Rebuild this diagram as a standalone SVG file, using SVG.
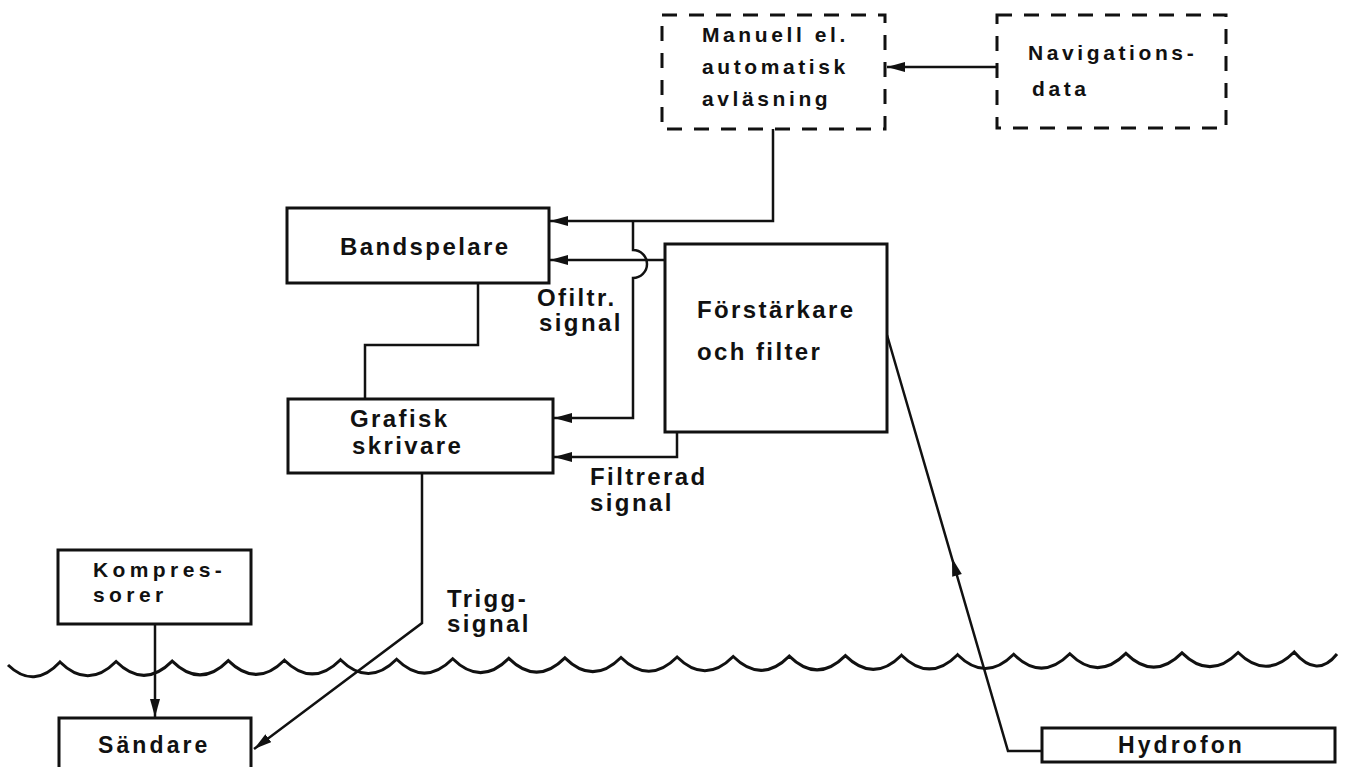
<svg xmlns="http://www.w3.org/2000/svg" width="1347" height="767" viewBox="0 0 1347 767">
<style>
.box{fill:#fff;stroke:#111;stroke-width:3}
.dash{fill:#fff;stroke:#111;stroke-width:3;stroke-dasharray:15 12}
.ln{fill:none;stroke:#111;stroke-width:2.5}
.wave{fill:none;stroke:#111;stroke-width:3;stroke-linejoin:miter}
text{font-family:"Liberation Sans",Arial,sans-serif;font-weight:bold;fill:#111}
.t20{font-size:21px;letter-spacing:3.6px}
.t22{font-size:24px;letter-spacing:2.4px}
.t21{font-size:23px;letter-spacing:3.1px}
.tk{font-size:21px;letter-spacing:4.4px}
</style>
<defs>
<marker id="arr" viewBox="0 0 18 10" refX="18" refY="5" markerWidth="18" markerHeight="10" markerUnits="userSpaceOnUse" orient="auto">
<path d="M0,0 L18,5 L0,10 z" fill="#111"/>
</marker>
</defs>
<rect width="1347" height="767" fill="#fff"/>

<g id="connectors">
<path class="ln" d="M997,67 H887" marker-end="url(#arr)"/>
<path class="ln" d="M773,129 V221 H550" marker-end="url(#arr)"/>
<path class="ln" d="M665,260 H550" marker-end="url(#arr)"/>
<path class="ln" d="M633,221 V250 A14,14 0 0 1 633,278 V418 H554" marker-end="url(#arr)"/>
<path class="ln" d="M677,432 V457 H554" marker-end="url(#arr)"/>
<path class="ln" d="M478,283 V345 H365 V399"/>
<path class="ln" d="M422,473 V623 L254,749" marker-end="url(#arr)"/>
<path class="ln" d="M155,624 V717" marker-end="url(#arr)"/>
<path class="ln" d="M1042,751 H1008 L887,335"/>
<polygon points="952,558 961.8,573.9 952.2,576.7" fill="#111"/>
</g>

<path id="water" class="wave" d="M8,665 Q34,690 60,662 Q88.05,689.75 116.1,661.5 Q144.15,689.3 172.2,661.1 Q200.25,688.85 228.3,660.6 Q256.35,688.4 284.4,660.2 Q312.45,687.95 340.5,659.7 Q368.55,687.5 396.6,659.3 Q424.65,687.05 452.7,658.8 Q480.75,686.6 508.8,658.4 Q536.85,686.15 564.9,657.9 Q592.95,685.7 621,657.5 Q649.05,685.25 677.1,657 Q705.15,684.75 733.2,656.5 Q761.25,684.3 789.3,656.1 Q817.35,683.85 845.4,655.6 Q873.45,683.4 901.5,655.2 Q929.55,682.95 957.6,654.7 Q985.65,682.5 1013.7,654.3 Q1041.75,682.05 1069.8,653.8 Q1097.85,681.6 1125.9,653.4 Q1153.95,681.15 1182,652.9 Q1210.05,680.7 1238.1,652.5 Q1266.15,680.25 1294.2,652 Q1317,679 1337,654"/>

<g id="manuell">
<rect class="dash" x="662" y="15" width="223" height="114"/>
<text class="t20" x="702" y="42">Manuell el.</text>
<text class="t20" x="702" y="74">automatisk</text>
<text class="t20" x="702" y="106">avläsning</text>
</g>

<g id="navigation">
<rect class="dash" x="997" y="15" width="229" height="113"/>
<text class="t20" x="1028" y="60">Navigations-</text>
<text class="t20" x="1032" y="96">data</text>
</g>

<g id="bandspelare">
<rect class="box" x="287" y="208" width="262" height="75"/>
<text class="t22" x="340" y="255">Bandspelare</text>
</g>

<g id="forstarkare">
<rect class="box" x="665" y="244" width="222" height="188"/>
<text class="t22" x="697" y="318">Förstärkare</text>
<text class="t22" x="697" y="360">och filter</text>
</g>

<g id="grafisk">
<rect class="box" x="288" y="399" width="265" height="74"/>
<text class="t22" x="350" y="427">Grafisk</text>
<text class="t22" x="352" y="454">skrivare</text>
</g>

<g id="kompressorer">
<rect class="box" x="58" y="550" width="193" height="74"/>
<text class="tk" x="93" y="577">Kompres-</text>
<text class="tk" x="93" y="602">sorer</text>
</g>

<g id="sandare">
<rect class="box" x="59" y="718" width="192" height="70"/>
<text class="t21" x="98" y="753">Sändare</text>
</g>

<g id="hydrofon">
<rect class="box" x="1042" y="728" width="293" height="34"/>
<text class="t21" x="1118" y="753">Hydrofon</text>
</g>

<g id="labels">
<text class="t22" x="537" y="306">Ofiltr.</text>
<text class="t22" x="539" y="331">signal</text>
<text class="t22" x="590" y="485">Filtrerad</text>
<text class="t22" x="590" y="511">signal</text>
<text class="t22" x="447" y="607">Trigg-</text>
<text class="t22" x="447" y="632">signal</text>
</g>
</svg>
